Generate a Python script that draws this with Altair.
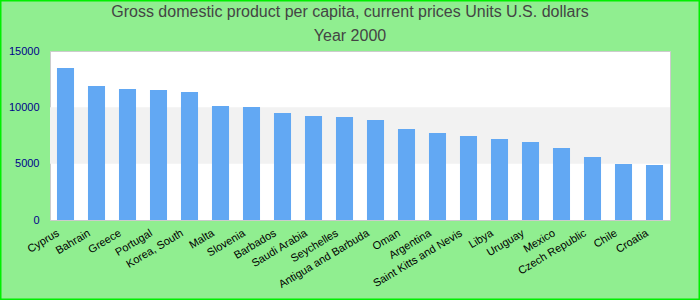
import altair as alt
import pandas as pd

countries = ["Cyprus", "Bahrain", "Greece", "Portugal", "Korea, South", "Malta", "Slovenia",
             "Barbados", "Saudi Arabia", "Seychelles", "Antigua and Barbuda", "Oman", "Argentina",
             "Saint Kitts and Nevis", "Libya", "Uruguay", "Mexico", "Czech Republic", "Chile", "Croatia"]
gdp = [13490, 11890, 11630, 11540, 11360, 10120, 10030, 9500, 9230, 9140,
       8880, 8080, 7720, 7460, 7190, 6920, 6390, 5590, 4970, 4880]
band_low = [5000]
band_high = [10000]
title_line1 = ["Gross domestic product per capita, current prices Units U.S. dollars"]
title_line2 = ["Year 2000"]

df = pd.DataFrame({"country": countries, "gdp": gdp})
band_df = pd.DataFrame({"lo": band_low, "hi": band_high})

W, H = 620, 169
PL, PT = 50, 51

x_enc = alt.X("country:N", sort=None, title=None,
              scale=alt.Scale(paddingInner=0.45, paddingOuter=0.225),
              axis=alt.Axis(labelAngle=-31, labelAlign="right", labelBaseline="middle",
                            labelColor="#000000", labelFontSize=11, labelFont="Liberation Sans",
                            labelPadding=12, labelOffset=-7, ticks=False, domain=False, grid=False,
                            labelOverlap=False, labelLimit=0))
y_scale = alt.Scale(domain=[0, 15000], nice=False)

band = alt.Chart(band_df).mark_rect(color="#f2f2f2").encode(
    y=alt.Y("lo:Q", scale=y_scale, title=None,
            axis=alt.Axis(values=[0, 5000, 10000, 15000], format="d", labelColor="#00008B",
                          labelFontSize=11, labelFont="Liberation Sans", labelPadding=11,
                          ticks=False, domain=False, grid=False)),
    y2="hi:Q",
    x=alt.value(0), x2=alt.value(W),
)

bars = alt.Chart(df).mark_bar(color="#62A8F3").encode(
    x=x_enc,
    y=alt.Y("gdp:Q", scale=y_scale),
)

frame = alt.Chart(band_df).mark_rect(fill=None, stroke="#00ee00", strokeWidth=1.5, clip=False).encode(
    x=alt.value(-PL + 0.75), x2=alt.value(700 - PL - 0.75),
    y=alt.value(-PT + 0.75), y2=alt.value(300 - PT - 0.75),
)

t1 = alt.Chart(pd.DataFrame({"t": title_line1})).mark_text(
    font="Liberation Sans", fontSize=16, color="#444444", align="center", baseline="middle"
).encode(text="t:N", x=alt.value(350 - PL), y=alt.value(12 - PT))

t2 = alt.Chart(pd.DataFrame({"t": title_line2})).mark_text(
    font="Liberation Sans", fontSize=16, color="#444444", align="center", baseline="middle"
).encode(text="t:N", x=alt.value(350 - PL), y=alt.value(36 - PT))

chart = alt.layer(band, bars, frame, t1, t2).properties(
    width=W, height=H,
    autosize=alt.AutoSizeParams(type="none"),
    padding={"left": PL, "top": PT, "right": 700 - PL - W, "bottom": 300 - PT - H},
    background="#90EE90",
).configure_view(stroke="#cccccc", strokeWidth=1, fill="white")

chart.save("out.html", embed_options={"renderer": "svg", "actions": False})
